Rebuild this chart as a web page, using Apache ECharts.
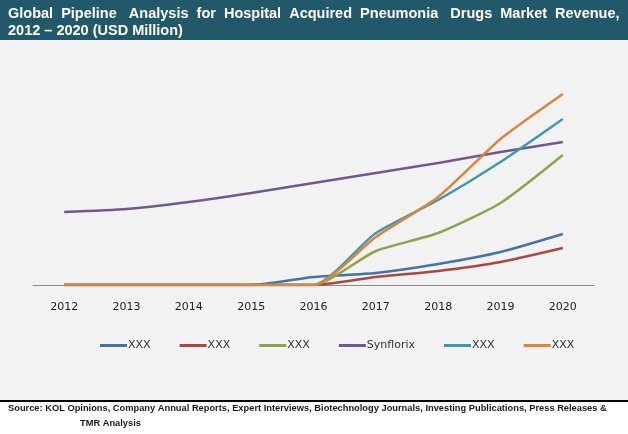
<!DOCTYPE html>
<html>
<head>
<meta charset="utf-8">
<script src="https://cdn.jsdelivr.net/npm/echarts@6/dist/echarts.min.js"></script>
<style>
html,body{margin:0;padding:0;background:#fff;}
#chart{width:628px;height:434px;}
</style>
</head>
<body>
<div id="chart"></div>
<script>
var years = ['2012','2013','2014','2015','2016','2017','2018','2019','2020'];
var names = ['XXX','XXX ','XXX  ','Synflorix','XXX   ','XXX    '];
var blueData   = [0, 0, 0, 0, 8, 12, 21, 33, 51];
var redData    = [0, 0, 0, 0, 0, 8, 14, 23, 37];
var greenData  = [0, 0, 0, 0, 0, 34, 52, 82, 130];
var synflorix  = [73, 76, 83, 92, 102, 112, 122, 133, 143];
var cyanData   = [0, 0, 0, 0, 0, 52, 85, 123, 166];
var orangeData = [0, 0, 0, 0, 0, 48, 88, 146, 191];

var chart = echarts.init(document.getElementById('chart'));
chart.setOption({
    animation: false,
    color: ['#4572a7','#aa4643','#89a54e','#71588f','#4198af','#db843d'],
    graphic: [
        {type:'rect', shape:{x:0,y:0,width:628,height:401}, style:{fill:'#f2f2f2'}, z:-10},
        {type:'rect', shape:{x:0,y:0,width:628,height:40}, style:{fill:'#21596a'}, z:-9},
        {type:'text', left:8, top:5, style:{
            text:'Global  Pipeline   Analysis  for  Hospital  Acquired  Pneumonia   Drugs  Market  Revenue,\n2012 – 2020 (USD Million)',
            fill:'#fff', font:'bold 14.5px "Liberation Sans", Arial', lineHeight:17}},
        {type:'rect', shape:{x:0,y:400,width:628,height:2}, style:{fill:'#000'}},
        {type:'text', left:8, top:404, style:{
            text:'Source: KOL Opinions, Company Annual Reports, Expert Interviews, Biotechnology Journals, Investing Publications, Press Releases &',
            fill:'#1a1a1a', font:'bold 9.3px "Liberation Sans", Arial'}},
        {type:'text', left:80, top:419, style:{
            text:'TMR Analysis',
            fill:'#1a1a1a', font:'bold 9.3px "Liberation Sans", Arial'}}
    ],
    legend: {
        data: names,
        left: 95,
        top: 335,
        itemWidth: 27,
        itemHeight: 3,
        itemGap: 29,
        icon: 'rect',
        formatter: function (n) { return n.trim(); },
        textStyle: {fontSize: 11, color: '#333', fontFamily: '"DejaVu Sans"', padding:[0,0,0,-4]}
    },
    grid: {left: 33, right: 34, top: 35, height: 250},
    xAxis: {
        type: 'category',
        data: years,
        axisLine: {lineStyle: {color: '#8c8c8c'}},
        axisTick: {length: 5, lineStyle: {color: '#8c8c8c'}},
        axisLabel: {color: '#222', fontSize: 11, margin: 17, fontFamily: '"DejaVu Sans"'}
    },
    yAxis: {
        type: 'value', min: 0, max: 250,
        show: false,
        splitLine: {show: false}
    },
    series: [
        {name: names[0], type: 'line', data: blueData},
        {name: names[1], type: 'line', data: redData},
        {name: names[2], type: 'line', data: greenData},
        {name: names[3], type: 'line', data: synflorix},
        {name: names[4], type: 'line', data: cyanData},
        {name: names[5], type: 'line', data: orangeData}
    ].map(function (s) {
        s.symbol = 'none';
        s.smooth = 0.2;
        s.lineStyle = {width: 2.5};
        return s;
    })
});
</script>
</body>
</html>
